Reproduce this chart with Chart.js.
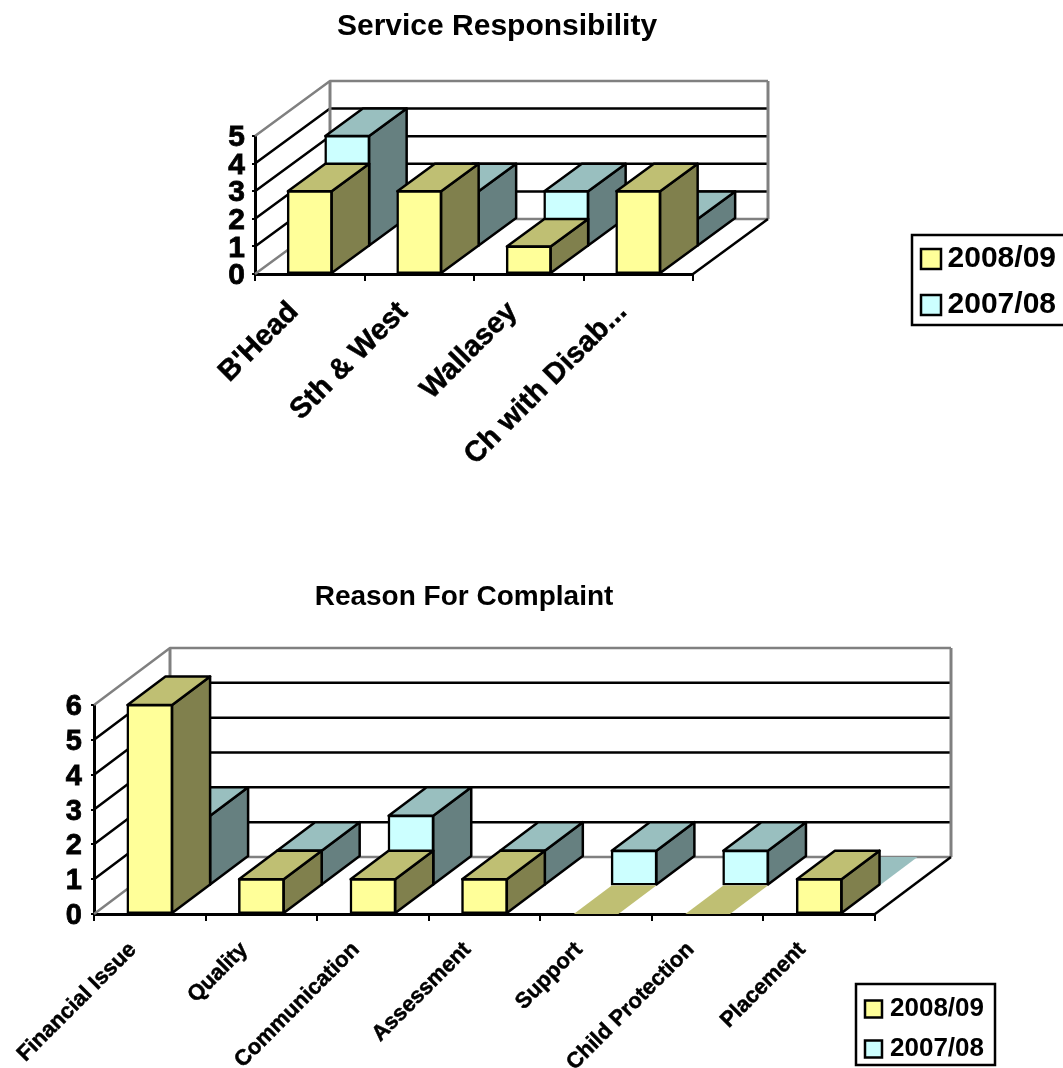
<!DOCTYPE html>
<html>
<head>
<meta charset="utf-8">
<title>Complaints</title>
<script src="https://cdn.jsdelivr.net/npm/chart.js@4"></script>
<style>
html,body{margin:0;padding:0;background:#fff}
canvas{position:absolute;left:0}
#serviceChart{top:0}
#reasonChart{top:540px}
</style>
</head>
<body>
<canvas id="serviceChart" width="1063" height="540"></canvas>
<canvas id="reasonChart" width="1063" height="528"></canvas>
<script>
const seriesNames = ["2008/09", "2007/08"]

const serviceLabels = ["B'Head", "Sth & West", "Wallasey", "Ch with Disab..."]
const service0809 = [3, 3, 1, 3]
const service0708 = [4, 2, 2, 1]

const reasonLabels = ["Financial Issue", "Quality", "Communication", "Assessment", "Support", "Child Protection", "Placement"]
const reason0809 = [6, 1, 1, 1, 0, 0, 1]
const reason0708 = [2, 1, 2, 1, 1, 1, 0]

const FONT = "'Liberation Sans', Arial, sans-serif"
const GREY = "#808080"
const STROKE = 2.5

function line(ctx, pts, color, width){
  ctx.beginPath()
  pts.forEach((p, i) => i ? ctx.lineTo(p[0], p[1]) : ctx.moveTo(p[0], p[1]))
  ctx.strokeStyle = color
  ctx.lineWidth = width
  ctx.stroke()
}

function poly(ctx, pts, fill, outlined){
  ctx.beginPath()
  pts.forEach((p, i) => i ? ctx.lineTo(p[0], p[1]) : ctx.moveTo(p[0], p[1]))
  ctx.closePath()
  ctx.fillStyle = fill
  ctx.fill()
  if(outlined){
    ctx.strokeStyle = "#000"
    ctx.lineWidth = STROKE
    ctx.stroke()
  }
}

// walls, floor and extruded bar sides; the front faces are the normal bar elements
const box3d = {
  id: "box3d",

  // title and legend sit away from the plot, so they get moved after layout
  afterLayout(chart, args, opts){
    const t = chart.titleBlock
    t.left = opts.titleX - 300
    t.right = opts.titleX + 300
    const l = chart.legend
    l.left = opts.legendLeft
    l.right = opts.legendRight
    l.top = opts.legendTop
    l.bottom = opts.legendBottom
  },

  beforeDatasetsDraw(chart, args, opts){
    const ctx = chart.ctx
    const {left, right} = chart.chartArea
    const y = chart.scales.y
    const {dx, dy} = opts
    ctx.save()
    ctx.lineJoin = "round"
    y.ticks.forEach(t => {
      const py = y.getPixelForValue(t.value)
      const edge = t.value === y.min || t.value === y.max
      line(ctx, [[left, py], [left + dx, py + dy], [right + dx, py + dy]], edge ? GREY : "#000", STROKE)
    })
    const y0 = y.getPixelForValue(y.min)
    const y1 = y.getPixelForValue(y.max)
    line(ctx, [[left + dx, y1 + dy], [left + dx, y0 + dy]], GREY, 3)
    line(ctx, [[right + dx, y1 + dy], [right + dx, y0 + dy]], GREY, 3)
    line(ctx, [[right, y0], [right + dx, y0 + dy]], "#000", STROKE)
    ctx.restore()
  },

  beforeDatasetDraw(chart, args, opts){
    const ctx = chart.ctx
    const ds = chart.data.datasets[args.index]
    const ox = opts.dx / 2
    const oy = opts.dy / 2
    ctx.save()
    // the earlier year stands in the rear half of the floor
    if(args.index === 1) ctx.translate(ox, oy)
    ctx.lineJoin = "round"
    args.meta.data.forEach(bar => {
      const p = bar.getProps(["x", "y", "base", "width"], true)
      const l = p.x - p.width / 2
      const r = p.x + p.width / 2
      const flat = Math.abs(p.base - p.y) < 0.5
      if(!flat){
        poly(ctx, [[r, p.y], [r + ox, p.y + oy], [r + ox, p.base + oy], [r, p.base]], ds.sideColor, true)
      }
      poly(ctx, [[l, p.y], [l + ox, p.y + oy], [r + ox, p.y + oy], [r, p.y]], ds.topColor, !flat)
    })
  },

  afterDatasetDraw(chart){
    chart.ctx.restore()
  },

  afterDraw(chart, args, opts){
    const f = opts.frame
    const ctx = chart.ctx
    ctx.save()
    ctx.strokeStyle = "#000"
    ctx.lineWidth = STROKE
    ctx.strokeRect(f[0], f[1], f[2], f[3])
    ctx.restore()
  }
}

function makeChart(id, title, labels, front, back, yMax, o){
  const inflate = c => c.raw ? 1 : 0
  return new Chart(document.getElementById(id), {
    type: "bar",
    plugins: [box3d],
    data: {
      labels: labels,
      datasets: [
        {label: seriesNames[0], data: front, backgroundColor: "#FFFF99", sideColor: "#80804D", topColor: "#BFBF73",
         borderColor: "#000", borderWidth: STROKE, borderSkipped: false, inflateAmount: inflate, clip: false},
        {label: seriesNames[1], data: back, backgroundColor: "#CCFFFF", sideColor: "#668080", topColor: "#99BFBF",
         borderColor: "#000", borderWidth: STROKE, borderSkipped: false, inflateAmount: inflate, clip: false}
      ]
    },
    options: {
      responsive: false,
      animation: false,
      events: [],
      layout: {autoPadding: false, padding: {left: 0, top: 0, right: o.padRight, bottom: 0}},
      datasets: {bar: {grouped: false, barPercentage: 0.4, categoryPercentage: 1}},
      scales: {
        x: {
          afterFit(s){ s.height = o.xHeight },
          grid: {drawOnChartArea: false, color: "#000", lineWidth: 2, tickLength: 7},
          border: {color: "#000", width: 3},
          ticks: {color: "#000", font: {family: FONT, size: o.xFont, weight: "bold"},
                  textStrokeColor: "#000", textStrokeWidth: 0.5,
                  minRotation: 45, maxRotation: 45, autoSkip: false, padding: o.xPad, labelOffset: o.xShift}
        },
        y: {
          min: 0,
          max: yMax,
          afterFit(s){ s.width = o.yWidth },
          grid: {drawOnChartArea: false, color: "#000", lineWidth: 2, tickLength: 3},
          border: {color: "#000", width: 3},
          ticks: {stepSize: 1, autoSkip: false, color: "#000", font: {family: FONT, size: o.yFont, weight: "bold"},
                  textStrokeColor: "#000", textStrokeWidth: 0.8, padding: o.yPad, labelOffset: 2}
        }
      },
      plugins: {
        tooltip: {enabled: false},
        title: {display: true, text: title, color: "#000", font: {family: FONT, size: o.titleFont, weight: "bold"},
                padding: {top: o.titleTop, bottom: o.titleBottom}},
        legend: {
          position: "chartArea",
          align: "start",
          labels: {color: "#000", font: {family: FONT, size: o.legendFont, weight: "bold"}, textAlign: "right",
                   boxWidth: o.legendBox, boxHeight: o.legendBox, padding: o.legendPad}
        },
        box3d: o.box
      }
    }
  })
}

makeChart("serviceChart", "Service Responsibility", serviceLabels, service0809, service0708, 5, {
  padRight: 370, xHeight: 266, yWidth: 255, xFont: 29, yFont: 30, xPad: 14, xShift: -16, yPad: 7,
  titleFont: 30, titleTop: 9, titleBottom: 91,
  legendFont: 30, legendBox: 20, legendPad: 16,
  box: {dx: 75, dy: -55, titleX: 497, legendLeft: 905, legendRight: 1056, legendTop: 228, legendBottom: 360,
        frame: [912, 235, 160, 90]}
})

makeChart("reasonChart", "Reason For Complaint", reasonLabels, reason0809, reason0708, 6, {
  padRight: 188, xHeight: 154, yWidth: 94, xFont: 22, yFont: 29, xPad: 16, xShift: -17, yPad: 9,
  titleFont: 28, titleTop: 40, titleBottom: 91.4,
  legendFont: 26, legendBox: 17, legendPad: 14,
  box: {dx: 76, dy: -57, titleX: 464, legendLeft: 851, legendRight: 984, legendTop: 442, legendBottom: 560,
        frame: [856, 444, 139, 81]}
})
</script>
</body>
</html>
